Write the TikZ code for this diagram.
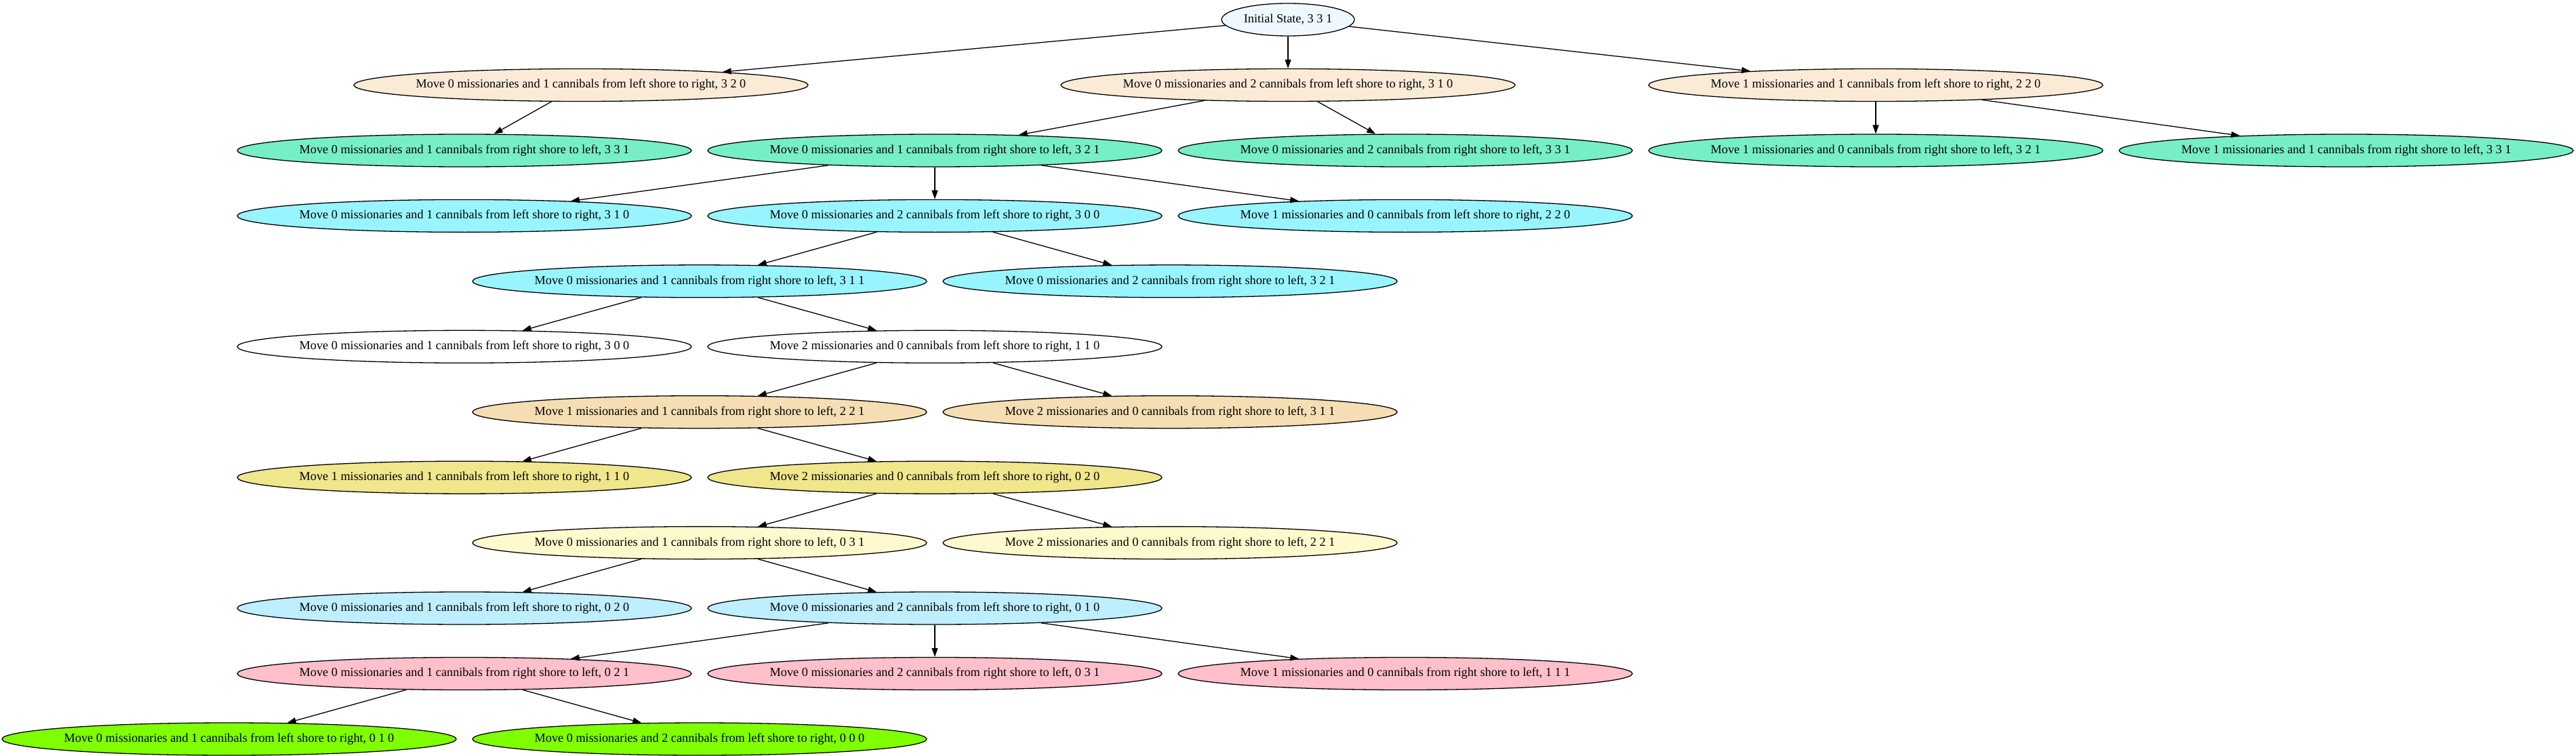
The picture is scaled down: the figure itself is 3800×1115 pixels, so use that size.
\documentclass[tikz,border=0pt]{standalone}
\usepackage{fontspec}
\setmainfont{Liberation Serif}
\usetikzlibrary{shapes.geometric,arrows.meta}
\definecolor{cInit}{HTML}{F0F8FF}
\definecolor{cR1}{HTML}{FAEBD7}
\definecolor{cR2}{HTML}{76EEC6}
\definecolor{cR3}{HTML}{98F5FF}
\definecolor{cR5}{HTML}{FFFFFF}
\definecolor{cR6}{HTML}{F5DEB3}
\definecolor{cR7}{HTML}{F0E68C}
\definecolor{cR8}{HTML}{FFFACD}
\definecolor{cR9}{HTML}{BFEFFF}
\definecolor{cR10}{HTML}{FFC0CB}
\definecolor{cR11}{HTML}{7FFF00}
\begin{document}
\begin{tikzpicture}[x=1pt,y=-1pt,
  st/.style={ellipse,draw=black,line width=1.3pt,minimum width=670pt,minimum height=48pt,
    inner xsep=-7pt,inner ysep=0pt,font=\fontsize{18.25}{22}\selectfont},
  ed/.style={-{Triangle[length=13pt,width=9pt]},line width=1.3pt}]
\useasboundingbox (0,0) rectangle (3800,1115);
% row 0
\node[st,fill=cInit,minimum width=196pt] (init) at (1900,29) {Initial State, 3 3 1};
% row 1
\node[st,fill=cR1] (a1) at (857,125.5) {Move 0 missionaries and 1 cannibals from left shore to right, 3 2 0};
\node[st,fill=cR1] (a2) at (1900,125.5) {Move 0 missionaries and 2 cannibals from left shore to right, 3 1 0};
\node[st,fill=cR1] (a3) at (2767,125.5) {Move 1 missionaries and 1 cannibals from left shore to right, 2 2 0};
% row 2
\node[st,fill=cR2] (b1) at (685,222) {Move 0 missionaries and 1 cannibals from right shore to left, 3 3 1};
\node[st,fill=cR2] (b2) at (1379,222) {Move 0 missionaries and 1 cannibals from right shore to left, 3 2 1};
\node[st,fill=cR2] (b3) at (2073,222) {Move 0 missionaries and 2 cannibals from right shore to left, 3 3 1};
\node[st,fill=cR2] (b4) at (2767,222) {Move 1 missionaries and 0 cannibals from right shore to left, 3 2 1};
\node[st,fill=cR2] (b5) at (3461,222) {Move 1 missionaries and 1 cannibals from right shore to left, 3 3 1};
% row 3
\node[st,fill=cR3] (c1) at (685,318.4) {Move 0 missionaries and 1 cannibals from left shore to right, 3 1 0};
\node[st,fill=cR3] (c2) at (1379,318.4) {Move 0 missionaries and 2 cannibals from left shore to right, 3 0 0};
\node[st,fill=cR3] (c3) at (2073,318.4) {Move 1 missionaries and 0 cannibals from left shore to right, 2 2 0};
% row 4
\node[st,fill=cR3] (d1) at (1032,414.8) {Move 0 missionaries and 1 cannibals from right shore to left, 3 1 1};
\node[st,fill=cR3] (d2) at (1726,414.8) {Move 0 missionaries and 2 cannibals from right shore to left, 3 2 1};
% row 5
\node[st,fill=cR5] (e1) at (685,511.3) {Move 0 missionaries and 1 cannibals from left shore to right, 3 0 0};
\node[st,fill=cR5] (e2) at (1379,511.3) {Move 2 missionaries and 0 cannibals from left shore to right, 1 1 0};
% row 6
\node[st,fill=cR6] (f1) at (1032,607.7) {Move 1 missionaries and 1 cannibals from right shore to left, 2 2 1};
\node[st,fill=cR6] (f2) at (1726,607.7) {Move 2 missionaries and 0 cannibals from right shore to left, 3 1 1};
% row 7
\node[st,fill=cR7] (g1) at (685,704.2) {Move 1 missionaries and 1 cannibals from left shore to right, 1 1 0};
\node[st,fill=cR7] (g2) at (1379,704.2) {Move 2 missionaries and 0 cannibals from left shore to right, 0 2 0};
% row 8
\node[st,fill=cR8] (h1) at (1032,800.6) {Move 0 missionaries and 1 cannibals from right shore to left, 0 3 1};
\node[st,fill=cR8] (h2) at (1726,800.6) {Move 2 missionaries and 0 cannibals from right shore to left, 2 2 1};
% row 9
\node[st,fill=cR9] (i1) at (685,897) {Move 0 missionaries and 1 cannibals from left shore to right, 0 2 0};
\node[st,fill=cR9] (i2) at (1379,897) {Move 0 missionaries and 2 cannibals from left shore to right, 0 1 0};
% row 10
\node[st,fill=cR10] (j1) at (685,993.5) {Move 0 missionaries and 1 cannibals from right shore to left, 0 2 1};
\node[st,fill=cR10] (j2) at (1379,993.5) {Move 0 missionaries and 2 cannibals from right shore to left, 0 3 1};
\node[st,fill=cR10] (j3) at (2073,993.5) {Move 1 missionaries and 0 cannibals from right shore to left, 1 1 1};
% row 11
\node[st,fill=cR11] (k1) at (338,1090) {Move 0 missionaries and 1 cannibals from left shore to right, 0 1 0};
\node[st,fill=cR11] (k2) at (1032,1090) {Move 0 missionaries and 2 cannibals from left shore to right, 0 0 0};
% edges
\draw[ed] (init) -- (a1);
\draw[ed] (init) -- (a2);
\draw[ed] (init) -- (a3);
\draw[ed] (a1) -- (b1);
\draw[ed] (a2) -- (b2);
\draw[ed] (a2) -- (b3);
\draw[ed] (a3) -- (b4);
\draw[ed] (a3) -- (b5);
\draw[ed] (b2) -- (c1);
\draw[ed] (b2) -- (c2);
\draw[ed] (b2) -- (c3);
\draw[ed] (c2) -- (d1);
\draw[ed] (c2) -- (d2);
\draw[ed] (d1) -- (e1);
\draw[ed] (d1) -- (e2);
\draw[ed] (e2) -- (f1);
\draw[ed] (e2) -- (f2);
\draw[ed] (f1) -- (g1);
\draw[ed] (f1) -- (g2);
\draw[ed] (g2) -- (h1);
\draw[ed] (g2) -- (h2);
\draw[ed] (h1) -- (i1);
\draw[ed] (h1) -- (i2);
\draw[ed] (i2) -- (j1);
\draw[ed] (i2) -- (j2);
\draw[ed] (i2) -- (j3);
\draw[ed] (j1) -- (k1);
\draw[ed] (j1) -- (k2);
\end{tikzpicture}
\end{document}
